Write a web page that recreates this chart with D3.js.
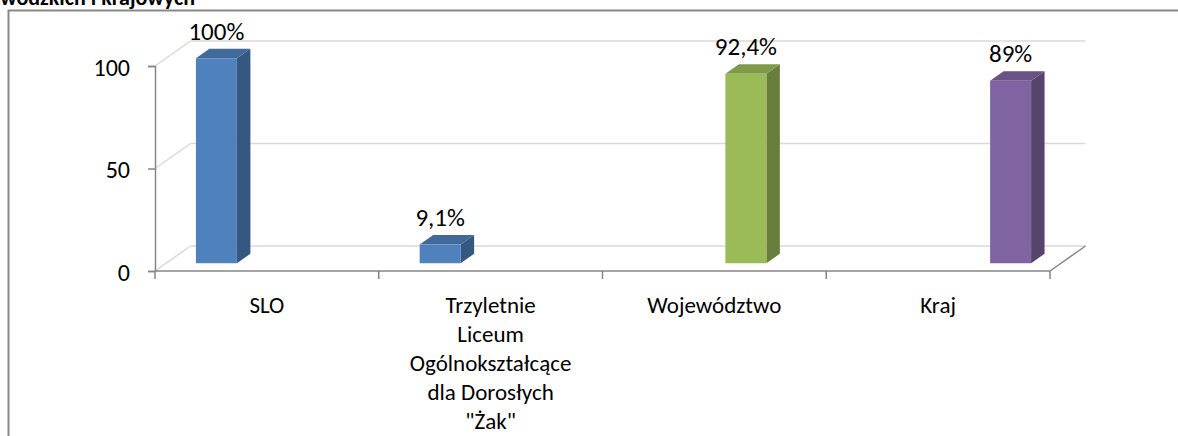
<!DOCTYPE html>
<html>
<head>
<meta charset="utf-8">
<script src="https://cdn.jsdelivr.net/npm/d3@7"></script>
<style>
  html, body { margin: 0; padding: 0; background: #fff; }
  svg { display: block; font-family: Calibri, Carlito, Lato, sans-serif; }
</style>
</head>
<body>
<svg id="chart" width="1178" height="436"></svg>
<script>
// categories on the horizontal axis (lines as they wrap in the original)
var categories = ["SLO", "Trzyletnie Liceum Ogólnokształcące dla Dorosłych \"Żak\"", "Województwo", "Kraj"];
var categoryLines = [
    ["SLO"],
    ["Trzyletnie", "Liceum", "Ogólnokształcące", "dla Dorosłych", "\"Żak\""],
    ["Województwo"],
    ["Kraj"]
];

// one bar per category, each sits in its own series slot of the cluster
var values = [100, 9.1, 92.4, 89];
var seriesSlot = [0, 0, 2, 3];
var seriesColors = ["#4f81bd", "#c0504d", "#9bbb59", "#8064a2"];

var yTicks = [0, 50, 100];
var title = "wojewódzkich i krajowych";

var svg = d3.select("#chart");

var plot = {left: 155, right: 1050, bottom: 271, top: 66};
var depth = {dx: 35.5, dy: -25};
var barFront = 0.31, barBack = 0.69;

var x = d3.scaleBand()
    .domain(d3.range(categories.length))
    .range([plot.left, plot.right])
    .padding(0);

var slot = d3.scaleBand()
    .domain(d3.range(seriesColors.length))
    .range([0, x.bandwidth()])
    .paddingInner(0)
    .paddingOuter(0.73);

var y = d3.scaleLinear().domain([0, 100]).range([plot.bottom, plot.top]);

var fmt = function (v) { return String(v).replace(".", ",") + "%"; };

// outer frame (only left and top edges are inside the picture)
svg.append("rect")
    .attr("x", 8.5).attr("y", 10.5)
    .attr("width", 1300).attr("height", 600)
    .attr("fill", "none")
    .attr("stroke", "#898989")
    .attr("stroke-width", 2);

// title, clipped by the top of the picture
svg.append("text")
    .attr("x", 195).attr("y", 4.5)
    .attr("text-anchor", "end")
    .attr("font-weight", "bold")
    .attr("font-size", 22)
    .text(title);

// back wall gridlines
var grid = svg.append("g").attr("class", "grid");
grid.selectAll("line.back")
    .data(yTicks)
    .join("line")
    .attr("class", "back")
    .attr("x1", plot.left + depth.dx).attr("x2", plot.right + depth.dx)
    .attr("y1", function (d) { return y(d) + depth.dy; })
    .attr("y2", function (d) { return y(d) + depth.dy; })
    .attr("stroke", "#d9d9d9").attr("stroke-width", 1.5);

// side wall diagonals
grid.selectAll("line.side")
    .data(yTicks)
    .join("line")
    .attr("class", "side")
    .attr("x1", plot.left).attr("x2", plot.left + depth.dx)
    .attr("y1", function (d) { return y(d); })
    .attr("y2", function (d) { return y(d) + depth.dy; })
    .attr("stroke", "#d9d9d9").attr("stroke-width", 1.5);

// floor: front edge and right edge
svg.append("line")
    .attr("x1", plot.left).attr("x2", plot.right)
    .attr("y1", y(0)).attr("y2", y(0))
    .attr("stroke", "#868686").attr("stroke-width", 1.5);
svg.append("line")
    .attr("x1", plot.right).attr("x2", plot.right + depth.dx)
    .attr("y1", y(0)).attr("y2", y(0) + depth.dy)
    .attr("stroke", "#868686").attr("stroke-width", 1.5);

// category ticks at band boundaries
var bounds = categories.map(function (c, i) { return x(i); }).concat([plot.right]);
svg.selectAll("line.xtick")
    .data(bounds)
    .join("line")
    .attr("class", "xtick")
    .attr("x1", function (d) { return d; }).attr("x2", function (d) { return d; })
    .attr("y1", y(0)).attr("y2", y(0) + 8)
    .attr("stroke", "#868686").attr("stroke-width", 1.5);

// value axis
var yAxis = svg.append("g")
    .attr("transform", "translate(" + plot.left + ",0)")
    .call(d3.axisLeft(y).tickValues(yTicks).tickSize(7).tickPadding(18));
yAxis.select(".domain").attr("stroke", "#868686").attr("stroke-width", 1.5);
yAxis.selectAll(".tick line").attr("stroke", "#868686").attr("stroke-width", 1.5);
yAxis.selectAll(".tick text")
    .attr("font-size", 24)
    .attr("font-family", "Calibri, Carlito, Lato, sans-serif")
    .attr("fill", "#000")
    .attr("dy", "0.38em");

// category labels
var catLabels = svg.append("g").attr("class", "cat-labels");
catLabels.selectAll("text")
    .data(categoryLines)
    .join("text")
    .attr("text-anchor", "middle")
    .attr("font-size", 23)
    .attr("fill", "#000")
    .each(function (lines, i) {
        var cx = x(i) + x.bandwidth() / 2;
        d3.select(this).selectAll("tspan")
            .data(lines)
            .join("tspan")
            .attr("x", cx)
            .attr("y", function (d, j) { return 312.5 + j * 29; })
            .text(function (d) { return d; });
    });

// 3D bars
var bars = values.map(function (v, i) {
    return {value: v, cat: i, slot: seriesSlot[i], color: seriesColors[seriesSlot[i]]};
});

var w = slot.bandwidth();
var pt = function (px, py) { return px + "," + py; };

var barG = svg.append("g").attr("class", "bars")
    .selectAll("g")
    .data(bars)
    .join("g");

barG.each(function (d) {
    var g = d3.select(this);
    var x0 = x(d.cat) + slot(d.slot);
    var yv = y(d.value), y0 = y(0);
    var fx = barFront * depth.dx, fy = barFront * depth.dy;
    var bx = barBack * depth.dx, by = barBack * depth.dy;
    var base = d3.color(d.color);

    // side face
    g.append("polygon")
        .attr("points", [
            pt(x0 + w + fx, yv + fy), pt(x0 + w + bx, yv + by),
            pt(x0 + w + bx, y0 + by), pt(x0 + w + fx, y0 + fy)
        ].join(" "))
        .attr("fill", base.darker(1.1));

    // top face
    g.append("polygon")
        .attr("points", [
            pt(x0 + fx, yv + fy), pt(x0 + w + fx, yv + fy),
            pt(x0 + w + bx, yv + by), pt(x0 + bx, yv + by)
        ].join(" "))
        .attr("fill", base.darker(0.55));

    // front face
    g.append("rect")
        .attr("x", x0 + fx).attr("y", yv + fy)
        .attr("width", w).attr("height", y0 - yv)
        .attr("fill", base);

    // value label
    g.append("text")
        .attr("x", x0 + fx + w / 2)
        .attr("y", yv + by - 9)
        .attr("text-anchor", "middle")
        .attr("font-size", 25)
        .attr("fill", "#000")
        .text(fmt(d.value));
});
</script>
</body>
</html>
